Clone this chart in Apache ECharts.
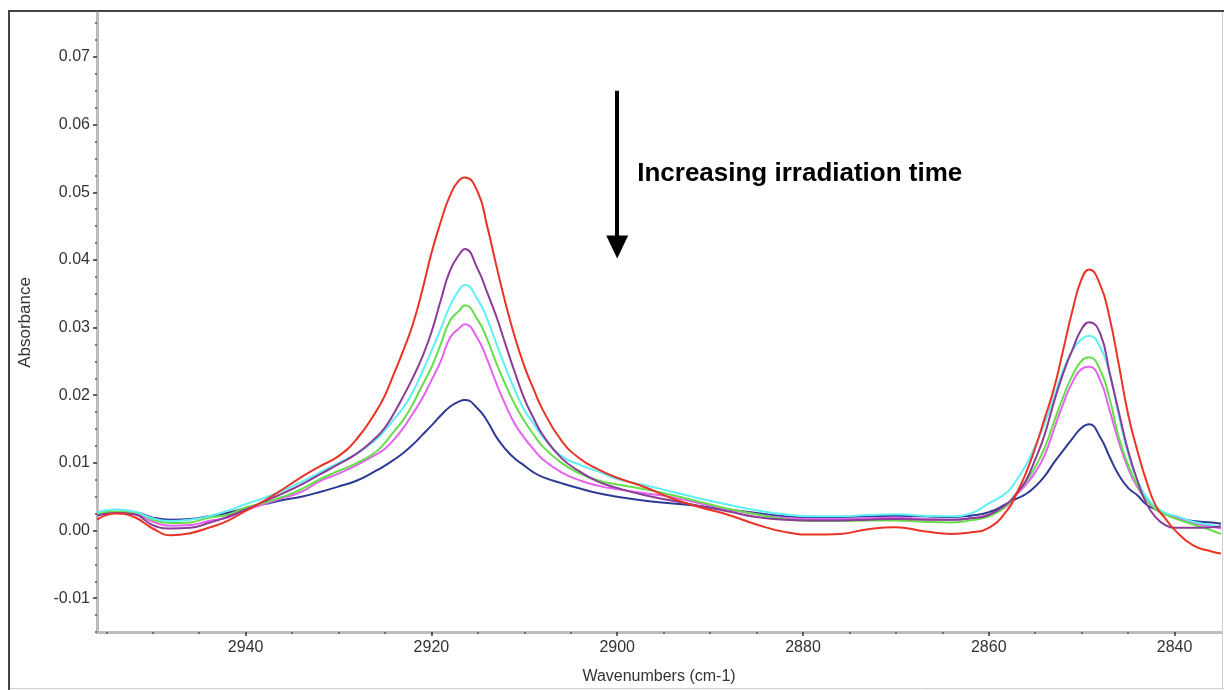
<!DOCTYPE html>
<html>
<head>
<meta charset="utf-8">
<title>Absorbance vs wavenumber</title>
<script src="https://cdn.jsdelivr.net/npm/echarts@6/dist/echarts.min.js"></script>
<style>
  html, body { margin: 0; padding: 0; background: #ffffff; }
  #chart { width: 1224px; height: 690px; }
</style>
</head>
<body>
<div id="chart"></div>
<script>
// Wavenumber sample positions (cm-1), shared by all spectra
const wavenumbers = [2956, 2954, 2952, 2950, 2948, 2946, 2944, 2942, 2940, 2938, 2936, 2934, 2932, 2930, 2928, 2926,
  2925, 2924, 2923, 2922, 2921, 2920, 2919, 2918, 2917, 2916.4, 2915, 2914, 2913, 2912, 2911, 2910, 2909, 2908,
  2906, 2904, 2902, 2900, 2897, 2894, 2891, 2888, 2885, 2882, 2879, 2876, 2873, 2870, 2867, 2864, 2862, 2860, 2858,
  2857, 2856, 2855, 2854, 2853, 2852, 2851, 2850, 2849.2, 2848, 2847, 2846, 2845, 2844, 2843, 2842, 2841, 2840,
  2838, 2836, 2835];

// Absorbance spectra, from shortest to longest irradiation time
const spectrumRed = [0.0016, 0.0025, 0.0020, 0.0003, -0.0007, -0.0004, 0.0004, 0.0014, 0.0029, 0.0044, 0.0061, 0.0079, 0.0095, 0.0110, 0.0136, 0.0175,
  0.0200, 0.0233, 0.0267, 0.0305, 0.0354, 0.0410, 0.0456, 0.0495, 0.0518, 0.0522, 0.0500, 0.0450, 0.0391, 0.0335, 0.0285, 0.0243, 0.0209, 0.0178,
  0.0133, 0.0106, 0.0090, 0.0078, 0.0064, 0.0047, 0.0034, 0.0023, 0.0009, -0.0002, -0.0006, -0.0005, 0.0002, 0.0005, -0.0001, -0.0005, -0.0003, 0.0004, 0.0030,
  0.0055, 0.0085, 0.0122, 0.0165, 0.0209, 0.0266, 0.0325, 0.0372, 0.0386, 0.0363, 0.0315, 0.0245, 0.0172, 0.0118, 0.0072, 0.0036, 0.0018, 0.0001,
  -0.0022, -0.0031, -0.0034];

const spectrumPurple = [0.0022, 0.0026, 0.0024, 0.0008, 0.0003, 0.0004, 0.0011, 0.0020, 0.0031, 0.0043, 0.0055, 0.0068, 0.0083, 0.0098, 0.0114, 0.0137,
  0.0152, 0.0174, 0.0199, 0.0226, 0.0256, 0.0293, 0.0340, 0.0384, 0.0408, 0.0416, 0.0386, 0.0352, 0.0316, 0.0274, 0.0233, 0.0195, 0.0166, 0.0141,
  0.0107, 0.0087, 0.0072, 0.0063, 0.0052, 0.0044, 0.0036, 0.0028, 0.0020, 0.0016, 0.0015, 0.0015, 0.0016, 0.0017, 0.0016, 0.0016, 0.0018, 0.0023, 0.0040,
  0.0055, 0.0074, 0.0105, 0.0141, 0.0189, 0.0232, 0.0267, 0.0298, 0.0308, 0.0291, 0.0234, 0.0175, 0.0118, 0.0074, 0.0039, 0.0019, 0.0008, 0.0004,
  0.0004, 0.0005, 0.0006];

const spectrumCyan = [0.0027, 0.0031, 0.0028, 0.0018, 0.0014, 0.0016, 0.0021, 0.0029, 0.0039, 0.0048, 0.0059, 0.0072, 0.0086, 0.0100, 0.0114, 0.0134,
  0.0148, 0.0165, 0.0182, 0.0205, 0.0234, 0.0265, 0.0298, 0.0332, 0.0356, 0.0363, 0.0341, 0.0313, 0.0276, 0.0240, 0.0207, 0.0178, 0.0158, 0.0138,
  0.0110, 0.0097, 0.0087, 0.0076, 0.0067, 0.0057, 0.0047, 0.0038, 0.0030, 0.0024, 0.0021, 0.0021, 0.0023, 0.0024, 0.0022, 0.0021, 0.0025, 0.0040, 0.0057,
  0.0075, 0.0097, 0.0125, 0.0158, 0.0196, 0.0237, 0.0266, 0.0283, 0.0288, 0.0271, 0.0232, 0.0170, 0.0113, 0.0074, 0.0049, 0.0035, 0.0026, 0.0022,
  0.0013, 0.0008, 0.0006];

const spectrumGreen = [0.0025, 0.0028, 0.0027, 0.0016, 0.0011, 0.0012, 0.0019, 0.0023, 0.0034, 0.0041, 0.0050, 0.0061, 0.0076, 0.0088, 0.0100, 0.0116,
  0.0130, 0.0147, 0.0164, 0.0187, 0.0214, 0.0241, 0.0275, 0.0310, 0.0325, 0.0333, 0.0311, 0.0283, 0.0247, 0.0215, 0.0186, 0.0162, 0.0142, 0.0124,
  0.0100, 0.0084, 0.0074, 0.0068, 0.0061, 0.0052, 0.0042, 0.0032, 0.0024, 0.0017, 0.0014, 0.0014, 0.0015, 0.0015, 0.0013, 0.0012, 0.0015, 0.0021, 0.0038,
  0.0056, 0.0072, 0.0094, 0.0122, 0.0160, 0.0197, 0.0229, 0.0251, 0.0256, 0.0237, 0.0195, 0.0138, 0.0097, 0.0067, 0.0046, 0.0031, 0.0024, 0.0018,
  0.0009, 0.0000, -0.0005];

const spectrumMagenta = [0.0023, 0.0027, 0.0025, 0.0013, 0.0007, 0.0008, 0.0014, 0.0019, 0.0030, 0.0039, 0.0048, 0.0057, 0.0073, 0.0084, 0.0097, 0.0112,
  0.0121, 0.0135, 0.0152, 0.0173, 0.0195, 0.0222, 0.0250, 0.0285, 0.0299, 0.0305, 0.0283, 0.0253, 0.0217, 0.0185, 0.0157, 0.0137, 0.0120, 0.0105,
  0.0086, 0.0074, 0.0066, 0.0061, 0.0055, 0.0049, 0.0040, 0.0031, 0.0024, 0.0019, 0.0017, 0.0017, 0.0018, 0.0019, 0.0017, 0.0016, 0.0018, 0.0023, 0.0037,
  0.0053, 0.0068, 0.0086, 0.0111, 0.0149, 0.0187, 0.0219, 0.0239, 0.0242, 0.0222, 0.0178, 0.0131, 0.0092, 0.0064, 0.0045, 0.0031, 0.0025, 0.0020,
  0.0011, 0.0006, 0.0003];

const spectrumNavy = [0.0025, 0.0027, 0.0027, 0.0019, 0.0016, 0.0017, 0.0021, 0.0026, 0.0033, 0.0039, 0.0045, 0.0050, 0.0057, 0.0065, 0.0074, 0.0088,
  0.0096, 0.0105, 0.0115, 0.0127, 0.0141, 0.0155, 0.0170, 0.0183, 0.0191, 0.0193, 0.0180, 0.0162, 0.0138, 0.0120, 0.0106, 0.0096, 0.0086, 0.0079,
  0.0070, 0.0062, 0.0055, 0.0050, 0.0044, 0.0040, 0.0036, 0.0031, 0.0026, 0.0021, 0.0019, 0.0020, 0.0021, 0.0022, 0.0021, 0.0020, 0.0022, 0.0027, 0.0040,
  0.0047, 0.0054, 0.0065, 0.0080, 0.0100, 0.0118, 0.0136, 0.0152, 0.0157, 0.0138, 0.0109, 0.0082, 0.0063, 0.0052, 0.0038, 0.0031, 0.0024, 0.0021,
  0.0014, 0.0012, 0.0010];

// Axis ranges and tick values
const xRange = [2835, 2956];
const yRange = [-0.015, 0.0765];
const xTickLabels = [2940, 2920, 2900, 2880, 2860, 2840];
const yTickLabels = [-0.01, 0.00, 0.01, 0.02, 0.03, 0.04, 0.05, 0.06, 0.07];
const xMinorStep = 5;
const yMinorStep = 0.0025;

// Annotation: arrow and caption placed in data coordinates
const arrowTop = [2900, 0.0650];
const arrowEnd = [2900, 0.0419];
const captionAt = [2897.9, 0.0528];
const captionText = 'Increasing irradiation time';

const xMinorTicks = [];
for (let v = 2955; v >= 2840; v -= xMinorStep) xMinorTicks.push(v);
const yMinorTicks = [];
for (let i = Math.round(yRange[0] / yMinorStep); i * yMinorStep <= yRange[1]; i++) {
  yMinorTicks.push(Math.round(i * yMinorStep * 10000) / 10000);
}

const FONT = '"Liberation Sans", Arial, sans-serif';
const spectra = [
  { name: 'Spectrum 1', color: '#ea3324', values: spectrumRed },
  { name: 'Spectrum 2', color: '#8a3c97', values: spectrumPurple },
  { name: 'Spectrum 3', color: '#5ff0f6', values: spectrumCyan },
  { name: 'Spectrum 4', color: '#66de4a', values: spectrumGreen },
  { name: 'Spectrum 5', color: '#e363ef', values: spectrumMagenta },
  { name: 'Spectrum 6', color: '#2f3a94', values: spectrumNavy }
];

const chart = echarts.init(document.getElementById('chart'), null, { renderer: 'canvas' });

const lineSeries = spectra.slice().reverse().map(s => ({
  name: s.name,
  type: 'line',
  xAxisIndex: 0,
  yAxisIndex: 0,
  showSymbol: false,
  smooth: 0.5,
  silent: true,
  lineStyle: { color: s.color, width: 2 },
  itemStyle: { color: s.color },
  data: wavenumbers.map((w, i) => [w, s.values[i]])
}));

const annotationSeries = {
  type: 'line',
  name: 'annotation',
  data: [],
  silent: true,
  markLine: {
    silent: true,
    symbol: ['none', 'triangle'],
    symbolSize: [22, 23],
    lineStyle: { color: '#000', width: 4, type: 'solid' },
    label: { show: false },
    data: [[{ coord: arrowTop }, { coord: arrowEnd }]]
  },
  markPoint: {
    silent: true,
    symbol: 'circle',
    symbolSize: 1,
    itemStyle: { color: 'rgba(0,0,0,0)' },
    label: {
      show: true,
      position: 'right',
      distance: 0,
      formatter: captionText,
      color: '#000',
      fontSize: 26,
      fontWeight: 'bold',
      fontFamily: '"Liberation Sans", Arial, Helvetica, sans-serif'
    },
    data: [{ coord: captionAt }]
  }
};

const axisLineStyle = { show: true, onZero: false, lineStyle: { color: '#bcbcbc', width: 3 } };

chart.setOption({
  backgroundColor: '#ffffff',
  animation: false,
  grid: { left: 97, right: 3, top: 13, bottom: 58, containLabel: false },
  xAxis: [
    {
      type: 'value', min: xRange[0], max: xRange[1], inverse: true,
      name: 'Wavenumbers (cm-1)', nameLocation: 'middle', nameGap: 37,
      nameTextStyle: { color: '#333', fontSize: 16, fontFamily: FONT },
      axisLine: axisLineStyle,
      axisTick: { show: true, customValues: xTickLabels, length: 4, lineStyle: { color: '#333', width: 1.5 } },
      axisLabel: { customValues: xTickLabels, color: '#333', fontSize: 16, fontFamily: FONT, margin: 8,
        formatter: v => String(v) },
      splitLine: { show: false }
    },
    {
      type: 'value', min: xRange[0], max: xRange[1], inverse: true, position: 'bottom',
      axisLine: { show: false, onZero: false },
      axisTick: { show: true, customValues: xMinorTicks, length: 2, lineStyle: { color: '#555', width: 1.5 } },
      axisLabel: { show: false },
      splitLine: { show: false }
    }
  ],
  yAxis: [
    {
      type: 'value', min: yRange[0], max: yRange[1],
      name: 'Absorbance', nameLocation: 'middle', nameGap: 63,
      nameTextStyle: { color: '#333', fontSize: 17, fontFamily: FONT },
      axisLine: axisLineStyle,
      axisTick: { show: true, customValues: yTickLabels, length: 4, lineStyle: { color: '#333', width: 1.5 } },
      axisLabel: {
        customValues: yTickLabels, color: '#333', fontSize: 16, fontFamily: FONT, margin: 7,
        formatter: v => v.toFixed(2)
      },
      splitLine: { show: false }
    },
    {
      type: 'value', min: yRange[0], max: yRange[1], position: 'left',
      axisLine: { show: false, onZero: false },
      axisTick: { show: true, customValues: yMinorTicks, length: 2, lineStyle: { color: '#555', width: 1.5 } },
      axisLabel: { show: false },
      splitLine: { show: false }
    }
  ],
  series: lineSeries.concat([annotationSeries]),
  graphic: [
    // window frame: dark top/left edges, light right/bottom edges
    { type: 'line', silent: true, shape: { x1: 9, y1: 11, x2: 1224, y2: 11 }, style: { stroke: '#444', lineWidth: 2 } },
    { type: 'line', silent: true, shape: { x1: 9, y1: 10, x2: 9, y2: 690 }, style: { stroke: '#444', lineWidth: 2 } },
    { type: 'line', silent: true, shape: { x1: 1222.5, y1: 12, x2: 1222.5, y2: 688 }, style: { stroke: '#cfcfcf', lineWidth: 1 } },
    { type: 'line', silent: true, shape: { x1: 10, y1: 688.5, x2: 1224, y2: 688.5 }, style: { stroke: '#cfcfcf', lineWidth: 1 } }
  ]
});
</script>
</body>
</html>
